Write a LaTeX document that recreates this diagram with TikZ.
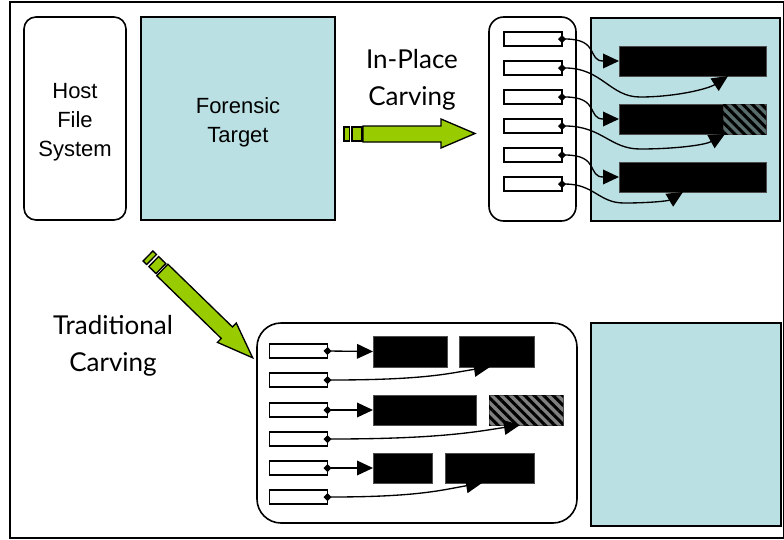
\documentclass[tikz,border=0pt]{standalone}
\usepackage{fontspec}
\setmainfont{Liberation Sans}
\newfontfamily\carvefont{Lato}
\usetikzlibrary{arrows.meta,patterns.meta}
\definecolor{targetblue}{RGB}{187,224,227}
\definecolor{arrowgreen}{RGB}{153,204,0}
\definecolor{hatchslate}{RGB}{88,108,108}
\definecolor{hatchgray}{RGB}{128,128,128}
\tikzset{
  panel/.style={draw=black, line width=1.2bp, inner sep=0pt, outer sep=0pt},
  targetbox/.style={panel, fill=targetblue},
  slot/.style={draw=black, fill=white, line width=1bp, inner sep=0pt, outer sep=0pt,
    minimum width=43.5bp, minimum height=10.5bp},
  bar/.style={fill=black, draw=black!70, line width=0.4bp, inner sep=0pt, outer sep=0pt,
    minimum height=22.5bp},
  hatchbar/.style={bar, fill=#1, postaction={pattern={Lines[angle=-45,distance=5bp,line width=2.3bp]}, pattern color=black}},
  conn/.style={line width=1bp, {Diamond[length=6bp,width=6bp]}-{Triangle[length=12bp,width=11bp]}, shorten <=-3bp},
  bigtext/.style={font=\fontsize{16.5bp}{21.75bp}\selectfont, align=center},
  carvetext/.style={font=\carvefont\fontsize{19.5bp}{27.75bp}\selectfont, align=center},
  greenshape/.style={fill=arrowgreen, draw=black, line width=1bp, line join=miter}
}
\begin{document}
\begin{tikzpicture}[x=0.75bp, y=-0.75bp]
\useasboundingbox (0,0) rectangle (784,540);
% outer frame
\draw[line width=1.1bp] (10,2) rectangle (784,538);

% host file system and the forensic target
\node[panel, rounded corners=9bp, minimum width=76.5bp, minimum height=152.25bp] (host) at (75,118.5) {};
\node[targetbox, minimum width=145.5bp, minimum height=152.25bp] (target) at (238,118.5) {};
\node[bigtext] (hostlabel) at ([yshift=-2.5bp]host.center) {Host\\File\\System};
\node[bigtext] (targetlabel) at ([yshift=-3bp]target.center) {Forensic\\Target};

% labels
\node[carvetext] (inplace) at (412,80) {In-Place\\Carving};
\node[carvetext] (traditional) at (113,346) {Traditional\\Carving};

% horizontal green arrow
\draw[greenshape] (344,127) rectangle (349.5,141);
\draw[greenshape] (352,127) rectangle (362,141);
\draw[greenshape] (363,126) -- (441,126) -- (441,119) -- (475,133.5) -- (441,148) -- (441,142) -- (363,142) -- cycle;

% diagonal green arrow
\begin{scope}[shift={(148,256)}, rotate=-44.2]
\draw[greenshape] (0,-7) rectangle (5,7);
\draw[greenshape] (8,-7) rectangle (18,7);
\draw[greenshape] (20,-8) -- (110,-8) -- (110,-13.5) -- (146,0) -- (110,13.5) -- (110,8) -- (20,8) -- cycle;
\end{scope}

% ---------- in-place carving ----------
\node[panel, rounded corners=11bp, minimum width=65.25bp, minimum height=153bp] (ilist) at (532.5,119) {};
\node[targetbox, minimum width=141.75bp, minimum height=152.25bp] (itarget) at (685.5,119.5) {};

\foreach \i/\y in {1/39,2/68,3/97,4/126,5/155,6/184}
  \node[slot] (t\i) at (533,\y) {};

\node[bar, minimum width=110.25bp] (ib1) at (692.5,61) {};
\node[bar, minimum width=110.25bp] (ib2) at (692.5,119) {};
\node[hatchbar=hatchslate, minimum width=32.25bp] (ib2h) at (744.5,119) {};
\node[bar, minimum width=110.25bp] (ib3) at (692.5,177) {};

\draw[conn] (t1.east) .. controls +(38,0) and +(-32,0) .. (ib1.west);
\draw[conn] (t2.east) .. controls +(40,0) and +(-30,0) .. ++(78,29)
  .. controls +(35,0) and +(-20,13) .. ([xshift=81.75bp]ib1.south west);
\draw[conn] (t3.east) .. controls +(38,0) and +(-32,0) .. (ib2.west);
\draw[conn] (t4.east) .. controls +(40,0) and +(-30,0) .. ++(78,23)
  .. controls +(35,0) and +(-20,11) .. ([xshift=79.5bp]ib2.south west);
\draw[conn] (t5.east) .. controls +(38,0) and +(-32,0) .. (ib3.west);
\draw[conn] (t6.east) .. controls +(32,0) and +(-25,0) .. ++(62,19)
  .. controls +(25,0) and +(-15,9) .. ([xshift=48bp]ib3.south west);

% ---------- traditional carving ----------
\node[panel, rounded corners=18bp, minimum width=240bp, minimum height=150bp] (tlist) at (417,423) {};
\node[targetbox, minimum width=142.5bp, minimum height=152.25bp] (ttarget) at (686,424.5) {};

\foreach \i/\y in {1/351,2/380,3/410,4/439,5/468,6/497}
  \node[slot] (s\i) at (298.5,\y) {};

\node[bar, minimum width=55.5bp, minimum height=23.25bp] (bA) at (410,351.5) {};
\node[bar, minimum width=56.25bp, minimum height=23.25bp] (bB) at (496.5,351.5) {};
\node[bar, minimum width=77.25bp] (bC) at (424.5,410) {};
\node[hatchbar=hatchgray, minimum width=55.5bp] (bD) at (526,410) {};
\node[bar, minimum width=44.25bp] (bE) at (402.5,468) {};
\node[bar, minimum width=66.75bp] (bF) at (489.5,468) {};

\draw[conn] (s1.east) -- (bA.west);
\draw[conn] (s2.east) .. controls +(100,0) and +(-40,6) .. ([xshift=23.25bp]bB.south west);
\draw[conn] (s3.east) -- (bC.west);
\draw[conn] (s4.east) .. controls +(110,0) and +(-45,7) .. ([xshift=23.25bp]bD.south west);
\draw[conn] (s5.east) -- (bE.west);
\draw[conn] (s6.east) .. controls +(90,0) and +(-40,7) .. ([xshift=27.75bp]bF.south west);
\end{tikzpicture}
\end{document}
